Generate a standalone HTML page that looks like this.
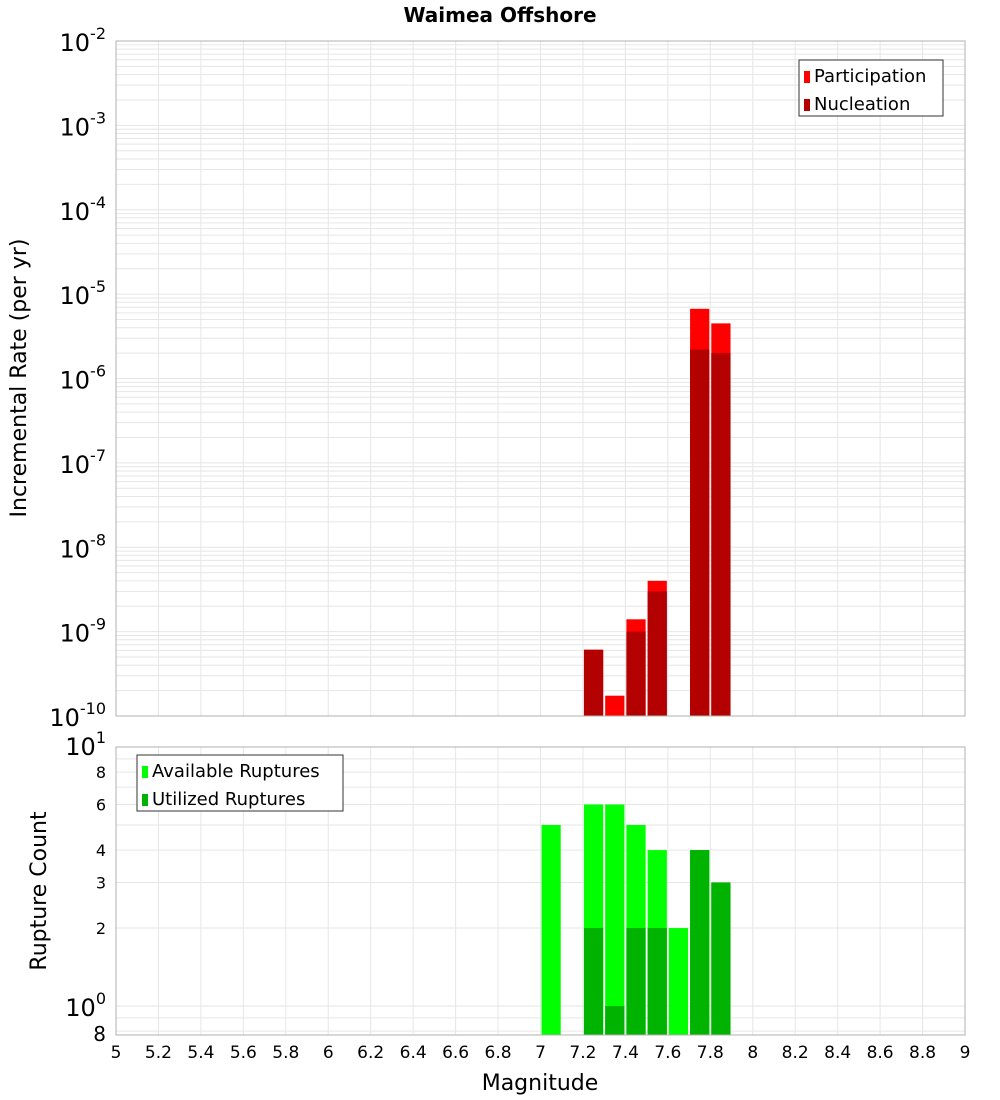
<!DOCTYPE html>
<html><head><meta charset="utf-8"><style>
body{margin:0;background:#fff;font-family:"DejaVu Sans","Liberation Sans",sans-serif}
svg{display:block}
</style></head><body>
<svg id="chart" width="1000" height="1100" xmlns="http://www.w3.org/2000/svg"></svg>
<script>
const mags=[7.05,7.25,7.35,7.45,7.55,7.65,7.75,7.85];
const participation=[0,6.1e-10,1.74e-10,1.4e-9,4.0e-9,0,6.7e-6,4.5e-6];
const nucleation=[0,6.1e-10,0,1.0e-9,3.0e-9,0,2.2e-6,2.0e-6];
const available=[5,6,6,5,4,2,4,3];
const utilized=[0,2,1,2,2,0,4,3];
const xTicks=["5","5.2","5.4","5.6","5.8","6","6.2","6.4","6.6","6.8","7","7.2","7.4","7.6","7.8","8","8.2","8.4","8.6","8.8","9"];
const countTicks=[2,3,4,6,8];

const NS="http://www.w3.org/2000/svg";
const svg=document.getElementById('chart');
function el(t,a,p){const e=document.createElementNS(NS,t);for(const k in a)e.setAttribute(k,a[k]);(p||svg).appendChild(e);return e;}
const X0=116,X1=965;
const x=m=>X0+(m-5)/4*(X1-X0);
const T0=41,T1=716;
const yTop=v=>T0+(-2-Math.log10(v))/8*(T1-T0);
const B0=747,B1=1035,BMIN=Math.log10(0.773);
const yBot=v=>B0+(1-Math.log10(v))/(1-BMIN)*(B1-B0);

// title
let t=el('text',{x:500,y:22,'text-anchor':'middle','font-size':20,'font-weight':'bold'});t.textContent='Waimea Offshore';


// top grid
const tg=el('g',{stroke:'#e6e6e6','stroke-width':1});

for(let d=-10;d<-2;d++)for(let k=1;k<10;k++){const yy=yTop(k*Math.pow(10,d));el('line',{x1:X0,x2:X1,y1:yy,y2:yy},tg);}
for(let i=0;i<xTicks.length;i++){const xx=x(+xTicks[i]);el('line',{x1:xx,x2:xx,y1:T0,y2:T1},tg);el('line',{x1:xx,x2:xx,y1:B0,y2:B1},tg);}
const bg=el('g',{stroke:'#e6e6e6','stroke-width':1});

for(let k=1;k<10;k++){const yy=yBot(k);el('line',{x1:X0,x2:X1,y1:yy,y2:yy},bg);}
[0.8,0.9].forEach(v=>{const yy=yBot(v);el('line',{x1:X0,x2:X1,y1:yy,y2:yy},bg);});

// top bars
const bw=x(5.1)-x(5)-2;
mags.forEach((m,i)=>{
  if(participation[i]>0){const r=el('rect',{x:x(m)-bw/2,y:yTop(participation[i]),width:bw,height:T1-yTop(participation[i]),fill:'#ff0000'});
    }
  if(nucleation[i]>0){const r=el('rect',{x:x(m)-bw/2,y:yTop(nucleation[i]),width:bw,height:T1-yTop(nucleation[i]),fill:'#b30000'});
    }
  if(available[i]>0){const r=el('rect',{x:x(m)-bw/2,y:yBot(available[i]),width:bw,height:B1-yBot(available[i]),fill:'#00ff00'});
    }
  if(utilized[i]>0){const r=el('rect',{x:x(m)-bw/2,y:yBot(utilized[i]),width:bw,height:B1-yBot(utilized[i]),fill:'#00b300'});
    }
});

// frames
el('rect',{x:X0,y:T0,width:X1-X0,height:T1-T0,fill:'none',stroke:'#b0b0b0'});
el('rect',{x:X0,y:B0,width:X1-X0,height:B1-B0,fill:'none',stroke:'#b0b0b0'});

// top y labels
for(let d=-10;d<=-2;d++){const yy=yTop(Math.pow(10,d));
  const g=el('text',{x:106,y:yy+10,'text-anchor':'end','font-size':24});
  
  g.innerHTML='10<tspan dy="-12" font-size="16">'+d+'</tspan>';}
// bottom y labels
function bl(txt,yy,big){const g=el('text',{x:106,y:yy,'text-anchor':'end','font-size':big?24:16});
  g.innerHTML=txt;return g;}
bl('10<tspan dy="-12" font-size="16">1</tspan>',yBot(10)+8,true);
bl('10<tspan dy="-12" font-size="16">0</tspan>',yBot(1)+10,true);
countTicks.forEach(v=>bl(String(v),yBot(v)+6,false));
bl('8',yBot(0.8)+10,true).setAttribute('font-size',20);

// x labels
xTicks.forEach(s=>{const g=el('text',{x:x(+s),y:1058,'text-anchor':'middle','font-size':17});g.textContent=s;
  });
t=el('text',{x:540,y:1090,'text-anchor':'middle','font-size':22});t.textContent='Magnitude';

t=el('text',{x:0,y:0,'text-anchor':'middle','font-size':22,transform:'translate(26,378) rotate(-90)'});t.textContent='Incremental Rate (per yr)';

t=el('text',{x:0,y:0,'text-anchor':'middle','font-size':22,transform:'translate(46,891) rotate(-90)'});t.textContent='Rupture Count';


// legends
function legend(x0,y0,w,items,name){const g=el('g',{});
  el('rect',{x:x0,y:y0,width:w,height:56,fill:'#fff',stroke:'#333'},g);
  items.forEach((it,i)=>{el('rect',{x:x0+5,y:y0+11+i*28,width:6,height:12,fill:it[1]},g);
    const tt=el('text',{x:x0+15,y:y0+22+i*28,'font-size':18},g);tt.textContent=it[0];
    });}
legend(799,60,144,[['Participation','#ff0000'],['Nucleation','#b30000']],'top-legend');
legend(137,755,206,[['Available Ruptures','#00ff00'],['Utilized Ruptures','#00b300']],'bottom-legend');
</script>
</body></html>
